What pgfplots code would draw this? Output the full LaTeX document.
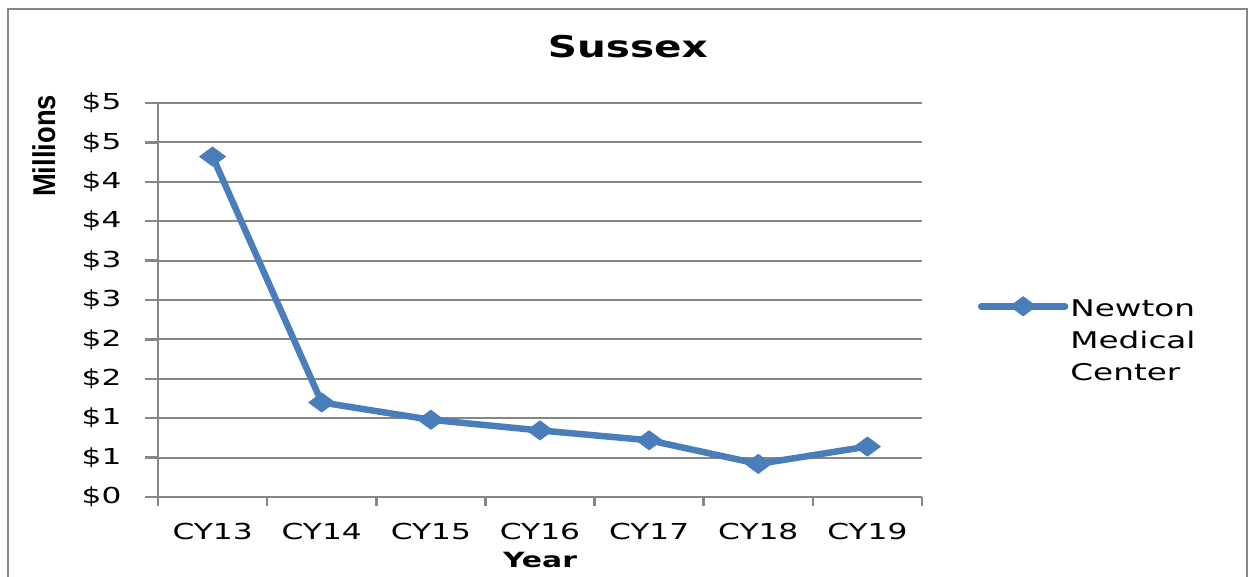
\documentclass[border=0pt]{standalone}
\usepackage{pgfplots}
\pgfplotsset{compat=1.18}
\usepackage{fontspec}
\setmainfont{DejaVu Sans}[FakeStretch=1.42]
\newfontfamily\titlefont{DejaVu Sans}[FakeStretch=1.35]
\newfontfamily\mfont{Liberation Sans}[FakeStretch=0.87]
\definecolor{gridgray}{HTML}{868686}
\definecolor{lineblue}{HTML}{4A7EBB}
\begin{document}
\begin{tikzpicture}
\useasboundingbox (0,0) rectangle (1253pt,-576pt);
\draw[color=gridgray, line width=2pt] (8pt,-590pt) -- (8pt,-9pt) -- (1247pt,-9pt) -- (1247pt,-590pt);
\begin{axis}[
  at={(158pt,-497pt)}, anchor=south west,
  scale only axis, width=764pt, height=394pt,
  xmin=-0.5, xmax=6.5, ymin=0, ymax=5,
  xtick={0,1,2,3,4,5,6},
  xticklabels={CY13,CY14,CY15,CY16,CY17,CY18,CY19},
  minor xtick={-0.5,0.5,1.5,2.5,3.5,4.5,5.5,6.5},
  ytick={0,0.5,1,1.5,2,2.5,3,3.5,4,4.5,5},
  yticklabels={\$0,\$1,\$1,\$2,\$2,\$3,\$3,\$4,\$4,\$5,\$5},
  ymajorgrids,
  grid style={color=gridgray, line width=2pt},
  axis x line*=bottom, axis y line*=left,
  axis line style={color=gridgray, line width=2.5pt},
  tick align=outside,
  major x tick style={draw=none},
  major tick length=13pt, minor tick length=9pt,
  tick style={color=gridgray, line width=2.5pt},
  ticklabel style={font=\fontsize{22}{26}\selectfont, text=black},
  xticklabel style={yshift=-10pt},
  yticklabel style={xshift=-20pt},
  title={\titlefont\bfseries Sussex},
  title style={at={(rel axis cs:0.615,1.127)}, anchor=center, font=\fontsize{30}{36}\selectfont},
  xlabel={\bfseries Year},
  xlabel style={at={(rel axis cs:0.5,-0.16)}, anchor=center, font=\fontsize{21}{24}\selectfont},
  ylabel={\mfont\bfseries Millions},
  ylabel style={at={(rel axis cs:-0.149,0.891)}, anchor=center, font=\fontsize{31.5}{36}\selectfont},
  legend style={at={(rel axis cs:1.069,0.525)}, anchor=north west, draw=none, fill=none,
    font=\fontsize{23}{32}\selectfont},
  legend cell align=left,
  legend image code/.code={\draw[mark repeat=2,mark phase=2,#1] plot coordinates {(0pt,0pt) (42pt,0pt) (84pt,0pt)};},
]
\addplot[color=lineblue, line width=6.5pt, line cap=round, line join=round,
  mark=diamond*, mark size=9.5pt, mark options={xscale=1.8, fill=lineblue, draw=lineblue, line width=1pt}]
  coordinates {(0,4.32) (1,1.20) (2,0.98) (3,0.845) (4,0.72) (5,0.42) (6,0.64)};
\addlegendentry{\begin{tabular}[t]{@{}l@{}}Newton\\Medical\\Center\end{tabular}}
\end{axis}
\end{tikzpicture}
\end{document}
